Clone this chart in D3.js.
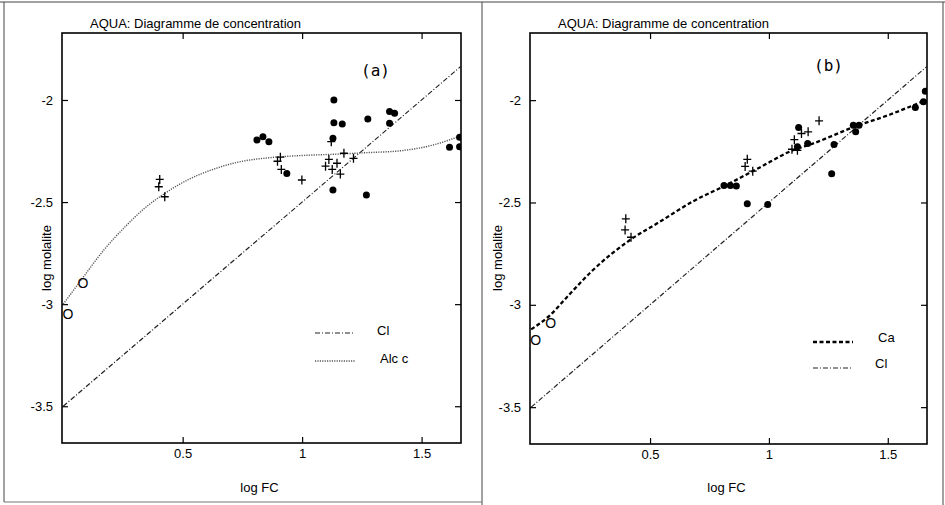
<!DOCTYPE html>
<html>
<head>
<meta charset="utf-8">
<script src="https://cdn.jsdelivr.net/npm/d3@7"></script>
<style>
  body { margin: 0; background: #fff; }
  svg { display: block; font-family: "Liberation Sans", Arial, sans-serif; }
</style>
</head>
<body>
<svg id="chart" width="945" height="505"></svg>
<script>
// shared axes
const xTicks = [0.5, 1, 1.5];
const yTicks = [-2, -2.5, -3, -3.5];
const xDomain = [-0.005, 1.665];
const yDomain = [-3.68, -1.672];

const titleText = 'AQUA: Diagramme de concentration';
const xLabel = 'log FC';
const yLabel = 'log molalite';

// Cl reference line (both panels)
const clLine = [[0, -3.5], [1.665, -1.835]];

// panel (a): Alc c curve + samples
const alcCurve = [
  [0, -3.0], [0.08, -2.874], [0.17, -2.735], [0.26, -2.62], [0.34, -2.531],
  [0.43, -2.454], [0.52, -2.392], [0.62, -2.343], [0.73, -2.305], [0.86, -2.283],
  [1.0, -2.272], [1.13, -2.266], [1.27, -2.258], [1.41, -2.249], [1.55, -2.22], [1.665, -2.175]
];
const aDots = [
  [0.811, -2.196], [0.836, -2.18], [0.861, -2.204], [1.133, -2.0], [1.133, -2.111],
  [1.168, -2.118], [1.275, -2.093], [1.366, -2.057], [1.387, -2.065], [1.366, -2.114],
  [1.129, -2.188], [0.936, -2.36], [1.129, -2.441], [1.269, -2.466], [1.617, -2.232],
  [1.659, -2.229], [1.659, -2.183]
];
const aPlus = [
  [0.404, -2.389], [0.40, -2.425], [0.425, -2.474], [0.909, -2.28], [0.897, -2.30],
  [0.913, -2.34], [0.999, -2.392], [1.122, -2.204], [1.112, -2.291], [1.098, -2.324],
  [1.126, -2.34], [1.146, -2.31], [1.175, -2.261], [1.215, -2.286], [1.16, -2.363]
];
const aOpen = [[0.083, -2.898], [0.02, -3.05]];

// panel (b): Ca curve + samples
const caCurve = [
  [0, -3.12], [0.08, -3.05], [0.16, -2.95], [0.26, -2.83], [0.42, -2.68],
  [0.54, -2.595], [0.68, -2.495], [0.82, -2.415], [0.96, -2.33], [1.09, -2.25],
  [1.19, -2.21], [1.36, -2.13], [1.51, -2.07], [1.66, -2.0]
];
const bDots = [
  [0.811, -2.417], [0.838, -2.417], [0.863, -2.42], [0.909, -2.506], [0.995, -2.51],
  [1.125, -2.134], [1.12, -2.228], [1.163, -2.212], [1.274, -2.217], [1.264, -2.36],
  [1.355, -2.123], [1.379, -2.123], [1.365, -2.155], [1.616, -2.036], [1.65, -2.008],
  [1.658, -1.956]
];
const bPlus = [
  [0.398, -2.58], [0.395, -2.634], [0.42, -2.67], [0.909, -2.289], [0.9, -2.324],
  [0.932, -2.347], [1.211, -2.101], [1.107, -2.193], [1.097, -2.24], [1.137, -2.163],
  [1.165, -2.155], [1.12, -2.245]
];
const bOpen = [[0.082, -3.087], [0.019, -3.173]];

const svg = d3.select('#chart');

// outer frame of the scanned page
const frame = svg.append('g').attr('stroke', '#444').attr('stroke-width', 1).attr('fill', 'none');
frame.append('line').attr('x1', 0).attr('x2', 945).attr('y1', 2).attr('y2', 2);
frame.append('line').attr('x1', 4).attr('x2', 4).attr('y1', 2).attr('y2', 502);
frame.append('line').attr('x1', 482).attr('x2', 482).attr('y1', 2).attr('y2', 505);
frame.append('line').attr('x1', 943).attr('x2', 943).attr('y1', 2).attr('y2', 505);
frame.append('line').attr('x1', 4).attr('x2', 482).attr('y1', 502).attr('y2', 502).attr('stroke', '#777');

const styles = {
  cl: { width: 1.2, dash: '5,2,1,2', color: '#222' },
  alc: { width: 1.4, dash: '1.2,1.2', color: '#555' },
  ca: { width: 2.3, dash: '4,2.5', color: '#000' }
};

function drawPanel(p) {
  const x = d3.scaleLinear().domain(xDomain).range([p.left, p.right]);
  const y = d3.scaleLinear().domain(yDomain).range([p.bottom, p.top]);
  const g = svg.append('g');

  g.append('text')
    .attr('x', p.titleX).attr('y', 28)
    .attr('font-size', 13)
    .text(titleText);

  const fixAxis = a => {
    a.select('.domain').remove();
    a.attr('font-family', null).attr('font-size', 13);
    a.selectAll('line').attr('stroke-width', 1.2);
  };

  g.append('g').attr('transform', `translate(0,${p.bottom})`)
    .call(d3.axisBottom(x).tickValues(xTicks).tickSize(-6).tickPadding(6).tickFormat(d => String(d)))
    .call(fixAxis);
  g.append('g').attr('transform', `translate(0,${p.top})`)
    .call(d3.axisTop(x).tickValues(xTicks).tickSize(-6).tickFormat(''))
    .call(fixAxis);
  g.append('g').attr('transform', `translate(${p.left},0)`)
    .call(d3.axisLeft(y).tickValues(yTicks).tickSize(-6).tickPadding(9).tickFormat(d => String(d)))
    .call(fixAxis);
  g.append('g').attr('transform', `translate(${p.right},0)`)
    .call(d3.axisRight(y).tickValues(yTicks).tickSize(-6).tickFormat(''))
    .call(fixAxis);

  g.append('rect')
    .attr('x', p.left).attr('y', p.top)
    .attr('width', p.right - p.left).attr('height', p.bottom - p.top)
    .attr('fill', 'none').attr('stroke', '#000').attr('stroke-width', 1.6);

  g.append('text')
    .attr('x', (p.left + p.right) / 2 - 2).attr('y', 492)
    .attr('text-anchor', 'middle').attr('font-size', 13)
    .text(xLabel);
  g.append('text')
    .attr('transform', `translate(${p.yLabelX},258) rotate(-90)`)
    .attr('text-anchor', 'middle').attr('font-size', 13)
    .text(yLabel);

  g.append('text')
    .attr('x', p.tagX).attr('y', p.tagY)
    .attr('font-family', '"DejaVu Sans Mono", monospace').attr('font-size', 16)
    .text(p.tag);

  const clipId = 'clip-' + p.id;
  g.append('clipPath').attr('id', clipId).append('rect')
    .attr('x', p.left).attr('y', p.top)
    .attr('width', p.right - p.left).attr('height', p.bottom - p.top);
  const plot = g.append('g').attr('clip-path', `url(#${clipId})`);

  const straight = d3.line().x(d => x(d[0])).y(d => y(d[1]));
  const smooth = d3.line().x(d => x(d[0])).y(d => y(d[1])).curve(d3.curveMonotoneX);

  p.series.forEach(s => {
    const st = styles[s.style];
    plot.append('path')
      .datum(s.data)
      .attr('d', s.curved ? smooth : straight)
      .attr('fill', 'none')
      .attr('stroke', st.color).attr('stroke-width', st.width)
      .attr('stroke-dasharray', st.dash);
  });

  plot.selectAll('circle.dot').data(p.dots).join('circle')
    .attr('class', 'dot')
    .attr('cx', d => x(d[0])).attr('cy', d => y(d[1]))
    .attr('r', 3.5).attr('fill', '#000');

  plot.selectAll('path.plus').data(p.plus).join('path')
    .attr('class', 'plus')
    .attr('transform', d => `translate(${x(d[0])},${y(d[1])})`)
    .attr('d', 'M-4,0H4M0,-4.5V4.5')
    .attr('stroke', '#000').attr('stroke-width', 1.3);

  g.selectAll('text.open').data(p.open).join('text')
    .attr('class', 'open')
    .attr('x', d => x(d[0])).attr('y', d => y(d[1]))
    .attr('dy', '0.36em')
    .attr('text-anchor', 'middle').attr('font-size', 14)
    .text('O');

  // legend
  const lg = g.append('g');
  p.legend.forEach(l => {
    const st = styles[l.style];
    lg.append('line')
      .attr('x1', l.x).attr('x2', l.x + 40).attr('y1', l.y).attr('y2', l.y)
      .attr('stroke', st.color).attr('stroke-width', st.width)
      .attr('stroke-dasharray', st.dash);
    lg.append('text')
      .attr('x', l.tx).attr('y', l.ty)
      .attr('font-size', 13)
      .text(l.label);
  });
}

drawPanel({
  id: 'a', left: 62, right: 461, top: 33, bottom: 443,
  titleX: 90, yLabelX: 51, tag: '(a)', tagX: 361, tagY: 76,
  series: [
    { data: clLine, style: 'cl', curved: false },
    { data: alcCurve, style: 'alc', curved: true }
  ],
  dots: aDots, plus: aPlus, open: aOpen,
  legend: [
    { label: 'Cl', style: 'cl', x: 315, y: 333, tx: 377, ty: 335 },
    { label: 'Alc c', style: 'alc', x: 315, y: 361, tx: 380, ty: 363 }
  ]
});

drawPanel({
  id: 'b', left: 530, right: 927, top: 33, bottom: 444,
  titleX: 558, yLabelX: 502, tag: '(b)', tagX: 814, tagY: 71,
  series: [
    { data: clLine, style: 'cl', curved: false },
    { data: caCurve, style: 'ca', curved: true }
  ],
  dots: bDots, plus: bPlus, open: bOpen,
  legend: [
    { label: 'Ca', style: 'ca', x: 813, y: 342, tx: 878, ty: 342 },
    { label: 'Cl', style: 'cl', x: 813, y: 368, tx: 875, ty: 368 }
  ]
});
</script>
</body>
</html>
